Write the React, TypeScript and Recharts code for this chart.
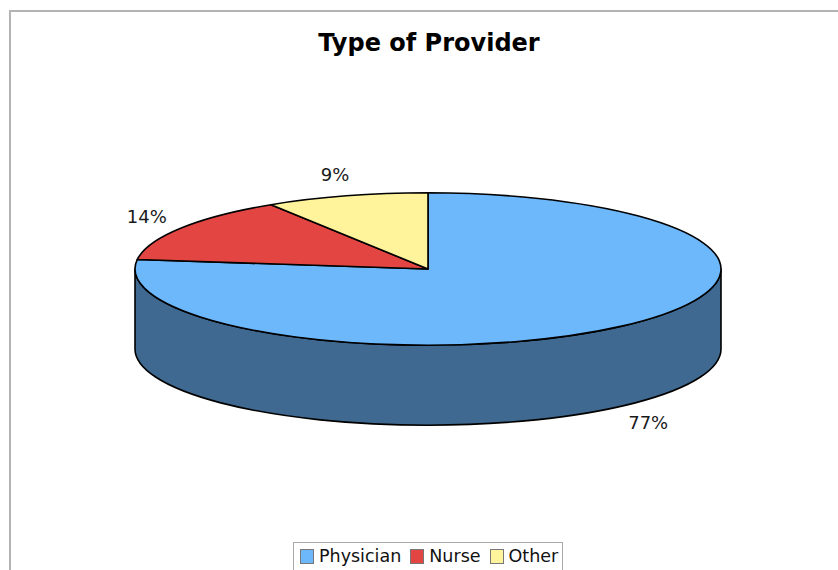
import React from 'react';
import { PieChart, Pie, Cell, Legend } from 'recharts';

const categories = ['Physician', 'Nurse', 'Other'];
const shares = [77, 14, 9];
const percentLabels = ['77%', '14%', '9%'];
const topColors = ['#6DB7FB', '#E34642', '#FFF49C'];
const sideColors = ['#3F6990', '#9B2F2C', '#B5AD6E'];
const title = 'Type of Provider';

const data = categories.map((name, i) => ({ name, value: shares[i], label: percentLabels[i], side: sideColors[i] }));

const TILT = 0.26;
const DEPTH = 80;
const FONT = '"DejaVu Sans", Verdana, sans-serif';

const pt = (cx: number, cy: number, rx: number, ry: number, deg: number) => {
  const r = (deg * Math.PI) / 180;
  return [cx + rx * Math.cos(r), cy - ry * Math.sin(r)];
};

function Sector3D(props: any) {
  const { cx, cy, outerRadius, startAngle, endAngle, fill, payload } = props;
  const rx = outerRadius;
  const ry = outerRadius * TILT;
  const side = (payload && (payload.side || (payload.payload && payload.payload.side))) || '#333';
  const lo0 = Math.min(startAngle, endAngle);
  const hi0 = Math.max(startAngle, endAngle);
  const walls: any[] = [];
  for (let k = -2; k <= 1; k++) {
    const lo = Math.max(lo0, -180 + 360 * k);
    const hi = Math.min(hi0, 360 * k);
    if (hi > lo) {
      const [x1, y1] = pt(cx, cy, rx, ry, hi);
      const [x2, y2] = pt(cx, cy, rx, ry, lo);
      const large = hi - lo > 180 ? 1 : 0;
      const d = `M${x1},${y1} A${rx},${ry} 0 ${large} 1 ${x2},${y2} L${x2},${y2 + DEPTH} A${rx},${ry} 0 ${large} 0 ${x1},${y1 + DEPTH} Z`;
      walls.push(<path key={k} d={d} fill={side} stroke="#000" strokeWidth={1.6} strokeLinejoin="round" />);
    }
  }
  const [sx, sy] = pt(cx, cy, rx, ry, startAngle);
  const [ex, ey] = pt(cx, cy, rx, ry, endAngle);
  const largeTop = Math.abs(endAngle - startAngle) > 180 ? 1 : 0;
  const sweep = endAngle < startAngle ? 1 : 0;
  const top = `M${cx},${cy} L${sx},${sy} A${rx},${ry} 0 ${largeTop} ${sweep} ${ex},${ey} Z`;
  return (
    <g>
      {walls}
      <path d={top} fill={fill} stroke="#000" strokeWidth={1.6} strokeLinejoin="round" />
    </g>
  );
}

const renderLabel = (props: any) => {
  const { cx, cy, outerRadius, midAngle, payload, index } = props;
  const rx = outerRadius + 40;
  const ry = outerRadius * TILT + 22;
  const r = (midAngle * Math.PI) / 180;
  const [px, py0] = pt(cx, cy, rx, ry, midAngle);
  const y = Math.sin(r) < 0 ? py0 + DEPTH : py0;
  const txt = (payload && payload.label) || percentLabels[index];
  return (
    <text x={px} y={y} textAnchor="middle" dominantBaseline="central" fontFamily={FONT} fontSize={18} fill="#1a1a1a">
      {txt}
    </text>
  );
};

const renderLegend = () => {
  return (
    <div
      style={{
        display: 'inline-flex',
        alignItems: 'center',
        border: '1px solid #A8A8A8',
        background: '#fff',
        padding: '3px 4px 10px 6px',
        fontFamily: FONT,
        fontSize: 17.5,
        color: '#111',
      }}
    >
      {categories.map((name, i) => (
        <span key={name} style={{ display: 'inline-flex', alignItems: 'center', marginRight: i < categories.length - 1 ? 9 : 0 }}>
          <span style={{ width: 12, height: 13, background: topColors[i], border: '1px solid #777', marginRight: 5, display: 'inline-block' }} />
          <span>{name}</span>
        </span>
      ))}
    </div>
  );
};

export default function App() {
  return (
    <div style={{ position: 'absolute', left: 0, top: 0, width: 838, height: 570, overflow: 'hidden', background: '#fff' }}>
      <div style={{ position: 'absolute', left: 9, top: 10, width: 900, height: 700, borderTop: '2px solid #B4B4B4', borderLeft: '2px solid #B4B4B4' }} />
      <div style={{ position: 'absolute', left: 0, top: 29, width: 858, textAlign: 'center', fontFamily: FONT, fontWeight: 'bold', fontSize: 24, color: '#000' }}>
        {title}
      </div>
      <div style={{ position: 'absolute', left: 0, top: 0 }}>
        <PieChart width={838} height={570} margin={{ top: 0, right: 0, bottom: 0, left: 0 }}>
          <Pie
            data={data}
            dataKey="value"
            nameKey="name"
            cx={428}
            cy={269}
            outerRadius={293}
            startAngle={90}
            endAngle={-270}
            isAnimationActive={false}
            shape={Sector3D}
            activeShape={Sector3D}
            inactiveShape={Sector3D}
            label={renderLabel}
            labelLine={false}
            stroke="#000"
          >
            {data.map((d, i) => (
              <Cell key={i} fill={topColors[i]} />
            ))}
          </Pie>
          <Legend content={renderLegend} wrapperStyle={{ position: 'absolute', left: 293, top: 542, width: 'auto', bottom: 'auto' }} />
        </PieChart>
      </div>
    </div>
  );
}
